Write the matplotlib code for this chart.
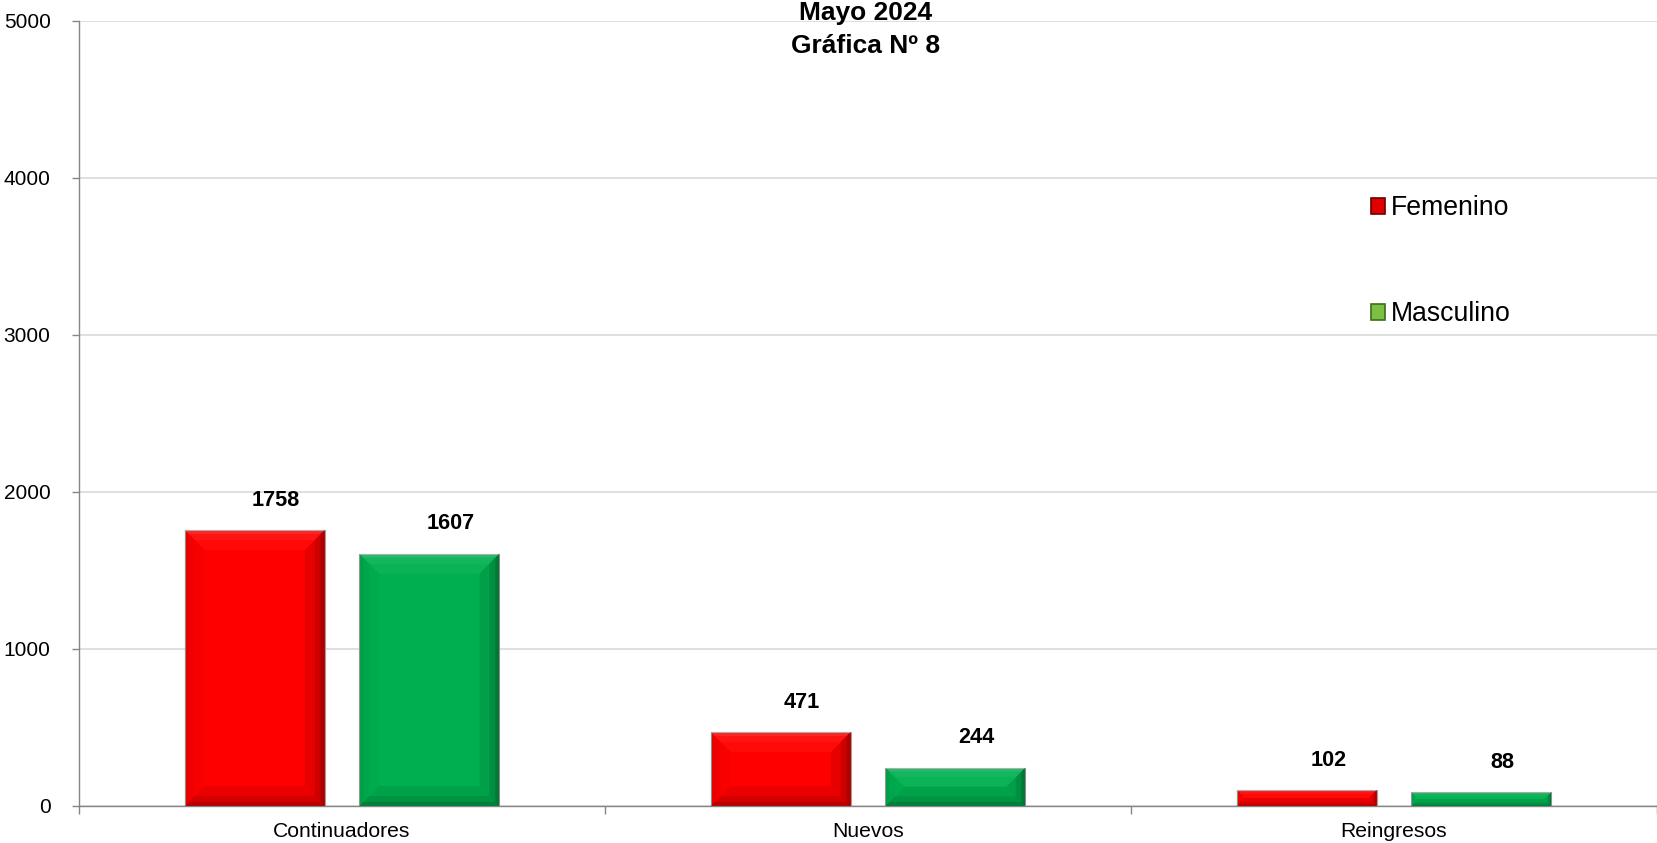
"""Mayo 2024 - Grafica N 8: matricula por sexo"""
import matplotlib

matplotlib.use("agg")
import matplotlib.pyplot as plt  # noqa: E402
import numpy as np  # noqa: E402
from matplotlib.patches import Patch, Polygon  # noqa: E402

categories = ["Continuadores", "Nuevos", "Reingresos"]
femenino = [1758, 471, 102]
masculino = [1607, 244, 88]
series_labels = ["Femenino", "Masculino"]
title_lines = ["Mayo 2024", "Gráfica Nº 8"]
y_ticks = [0, 1000, 2000, 3000, 4000, 5000]

plt.rcParams["font.family"] = ["Liberation Sans", "DejaVu Sans"]

fig = plt.figure(figsize=(16.57, 8.43), dpi=100)
ax = fig.add_axes([0.0477, 0.0439, 0.9523, 0.9312])

x = np.arange(len(categories))
width = 0.266
offset = 0.166

bars_f = ax.bar(x - offset, femenino, width, color="#ff0000", edgecolor="#a0a0a0",
                linewidth=0.8, zorder=3)
bars_m = ax.bar(x + offset, masculino, width, color="#00b050", edgecolor="#a0a0a0",
                linewidth=0.8, zorder=3)

# the right end of the axis is cut by the figure edge, as in the original
ax.set_xlim(-0.5, 2.472)
ax.set_ylim(0, 5000)

# pixels per data unit, to size the bevel in screen pixels
(px0, py0), (px1, py1) = ax.transData.transform([(0, 0), (1, 1000)])
sx = px1 - px0
sy = (py1 - py0) / 1000.0


def add_bevel(bars, dark):
    """Rough imitation of the Excel bevel: darker bottom/right, lighter top."""
    for bar in bars:
        x0 = bar.get_x()
        x1 = x0 + bar.get_width()
        y0 = 0.0
        y1 = bar.get_height()
        bmax = min(20.0, (y1 - y0) * sy / 2.0, (x1 - x0) * sx / 2.0)
        for frac, alpha in ((1.0, 0.10), (0.5, 0.12), (0.2, 0.18)):
            bx = bmax * frac / sx
            by = bmax * frac / sy
            pieces = [
                ([(x0, y0), (x1, y0), (x1 - bx, y0 + by), (x0 + bx, y0 + by)], dark, alpha),
                ([(x1, y0), (x1, y1), (x1 - bx, y1 - by), (x1 - bx, y0 + by)], dark, alpha * 1.2),
                ([(x0, y1), (x1, y1), (x1 - bx, y1 - by), (x0 + bx, y1 - by)], "#ffffff", alpha * 0.4),
                ([(x0, y0), (x0, y1), (x0 + bx, y1 - by), (x0 + bx, y0 + by)], dark, alpha * 0.3),
            ]
            for pts, color, a in pieces:
                ax.add_patch(Polygon(pts, closed=True, facecolor=color, edgecolor="none",
                                     alpha=a, zorder=4))


add_bevel(bars_f, "#3a0000")
add_bevel(bars_m, "#002a14")

for bars in (bars_f, bars_m):
    for bar in bars:
        ax.annotate(f"{bar.get_height():.0f}",
                    xy=(bar.get_x() + bar.get_width() / 2, bar.get_height()),
                    xytext=(15.5, 21.5), textcoords="offset points",
                    ha="center", va="center", fontsize=15.6, fontweight="bold",
                    zorder=5)

# y axis
ax.set_yticks(y_ticks)
ax.yaxis.grid(True, color="#d9d9d9", linewidth=1.2, zorder=0)
ax.tick_params(axis="y", length=5, width=1, color="#868686", labelsize=15, pad=15.5)

# x axis: ticks on category boundaries, labels at centres
ax.set_xticks(np.arange(-0.5, len(categories), 1.0))
ax.set_xticklabels([])
ax.set_xticks(x, minor=True)
ax.set_xticklabels(categories, minor=True)
ax.tick_params(axis="x", which="major", direction="out", length=6, width=1,
               color="#868686")
ax.tick_params(axis="x", which="minor", length=0, labelsize=15.2, pad=11.5)

for side in ("top", "right"):
    ax.spines[side].set_visible(False)
for side in ("left", "bottom"):
    ax.spines[side].set_color("#868686")
    ax.spines[side].set_linewidth(1)

fig.text(0.5225, 0.984, title_lines[0], ha="center", va="center",
         fontsize=19, fontweight="bold")
fig.text(0.5225, 0.945, title_lines[1], ha="center", va="center",
         fontsize=19, fontweight="bold")

handles = [Patch(facecolor="#e00000", edgecolor="#6a0000", linewidth=1.2),
           Patch(facecolor="#7cc043", edgecolor="#3b6e1c", linewidth=1.2)]
ax.legend(handles, series_labels, loc="upper left", bbox_to_anchor=(0.8185, 0.778),
          frameon=False, fontsize=19.2, handlelength=0.55, handleheight=0.55,
          handletextpad=0.2, labelspacing=3.0, borderpad=0, borderaxespad=0)

fig.savefig("out.png", dpi=100)
